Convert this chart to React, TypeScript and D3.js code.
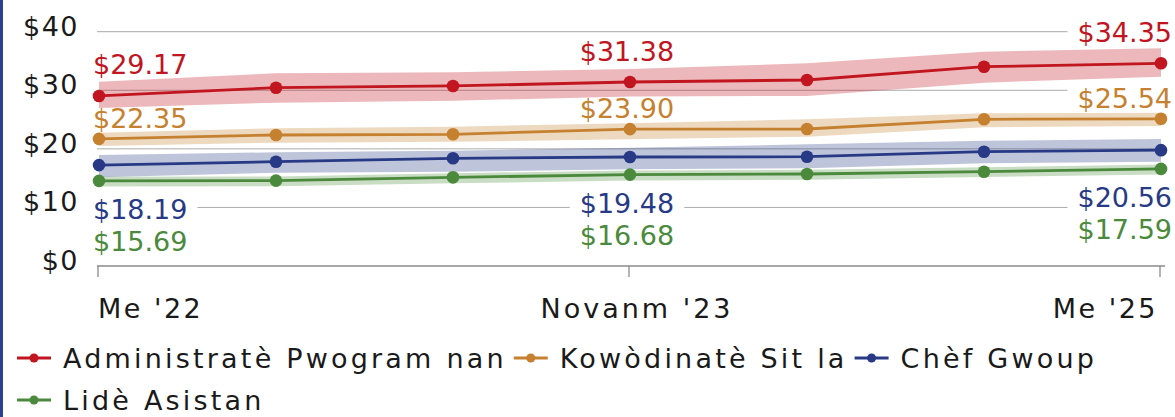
import React, { useEffect, useRef } from "react";
import * as d3 from "d3";

// ---------- data ----------
const periods = ["Me '22", "Novanm '22", "Me '23", "Novanm '23", "Me '24", "Novanm '24", "Me '25"];
const tickPeriods = ["Me '22", "Novanm '23", "Me '25"];
const yTicks = [0, 10, 20, 30, 40];
const labelIndexes = [0, 3, 6];

const seriesNames = ["Administratè Pwogram nan", "Kowòdinatè Sit la", "Chèf Gwoup", "Lidè Asistan"];

const adminValues = [29.17, 30.48, 30.75, 31.38, 31.7, 33.81, 34.35];
const adminUpper = [31.43, 32.76, 32.92, 33.44, 34.35, 36.19, 36.73];
const adminLower = [27.25, 28.1, 28.41, 29.08, 29.16, 31.27, 32.22];

const coordValues = [22.35, 22.97, 23.08, 23.9, 23.92, 25.46, 25.54];
const coordUpper = [23.33, 24.03, 24.29, 24.83, 25.46, 26.41, 26.51];
const coordLower = [21.22, 21.75, 21.9, 22.29, 22.7, 24.19, 24.4];

const chiefValues = [18.19, 18.73, 19.27, 19.48, 19.52, 20.32, 20.56];
const chiefUpper = [19.79, 20.22, 20.48, 20.95, 21.49, 22.06, 22.33];
const chiefLower = [16.25, 16.98, 17.14, 17.52, 17.68, 18.48, 18.73];

const assistValues = [15.69, 15.72, 16.25, 16.68, 16.78, 17.14, 17.59];
const assistUpper = [16.35, 16.4, 16.9, 17.33, 17.45, 17.84, 18.3];
const assistLower = [14.8, 14.85, 15.3, 15.75, 15.85, 16.3, 16.7];

// ---------- style ----------
const W = 1175;
const H = 417;
const FONT = "'DejaVu Sans', sans-serif";
const FS = 27;
const colors = ["#c1151f", "#c5812f", "#283a85", "#4b8a3c"];

export default function App() {
  const ref = useRef<SVGSVGElement | null>(null);

  useEffect(() => {
    const svg = d3.select(ref.current);
    svg.selectAll("*").remove();

    const series = [
      { name: seriesNames[0], values: adminValues, upper: adminUpper, lower: adminLower, color: colors[0] },
      { name: seriesNames[1], values: coordValues, upper: coordUpper, lower: coordLower, color: colors[1] },
      { name: seriesNames[2], values: chiefValues, upper: chiefUpper, lower: chiefLower, color: colors[2] },
      { name: seriesNames[3], values: assistValues, upper: assistUpper, lower: assistLower, color: colors[3] },
    ];

    const x = d3.scalePoint<string>().domain(periods).range([99, 1161]);
    const yAxis = d3.scaleLinear().domain([0, 40]).range([266, 31.7]);
    const yData = d3.scaleLinear().domain([0, 40]).range([279.7, 27.7]);

    svg.append("rect").attr("x", 0).attr("y", 0).attr("width", 3).attr("height", H).attr("fill", "#2e4190");

    // gridlines
    const grid = svg.append("g");
    yTicks.forEach((t) => {
      grid
        .append("line")
        .attr("x1", 97)
        .attr("x2", 1165)
        .attr("y1", yAxis(t))
        .attr("y2", yAxis(t))
        .attr("stroke", t === 0 ? "#8a8a8a" : "#ababab")
        .attr("stroke-width", t === 0 ? 1.3 : 1);
    });

    // y tick labels
    const fmtAxis = d3.format("$,.0f");
    yTicks.forEach((t) => {
      svg
        .append("text")
        .attr("x", 79)
        .attr("y", yAxis(t) + 4)
        .attr("text-anchor", "end")
        .attr("font-family", FONT)
        .attr("font-size", FS)
        .attr("letter-spacing", 1.5)
        .attr("fill", "#1a1a1a")
        .text(fmtAxis(t));
    });

    // x ticks
    tickPeriods.forEach((p, i) => {
      const px = (x(p) as number) - 1;
      svg.append("line").attr("x1", px).attr("x2", px).attr("y1", 266).attr("y2", 277).attr("stroke", "#8a8a8a").attr("stroke-width", 1.3);
      const last = i === tickPeriods.length - 1;
      const anchor = i === 0 ? "start" : last ? "end" : "middle";
      svg
        .append("text")
        .attr("x", i === 0 ? px : last ? px - 2 : px + 8)
        .attr("y", 318)
        .attr("text-anchor", anchor)
        .attr("font-family", FONT)
        .attr("font-size", FS)
        .attr("letter-spacing", i === 0 || last ? 2.5 : 3)
        .attr("fill", "#1a1a1a")
        .text(p);
    });

    const bgGroup = svg.append("g");

    // bands
    series.forEach((s) => {
      const area = d3
        .area<number>()
        .x((_, i) => x(periods[i]) as number)
        .y0((_, i) => yData(s.lower[i]))
        .y1((_, i) => yData(s.upper[i]));
      svg.append("path").attr("d", area(s.values) as string).attr("fill", s.color).attr("fill-opacity", 0.3);
    });

    // lines and points
    series.forEach((s) => {
      const line = d3
        .line<number>()
        .x((_, i) => x(periods[i]) as number)
        .y((d) => yData(d));
      svg.append("path").attr("d", line(s.values) as string).attr("fill", "none").attr("stroke", s.color).attr("stroke-width", 2.8);
      svg
        .append("g")
        .selectAll("circle")
        .data(s.values)
        .join("circle")
        .attr("cx", (_, i) => x(periods[i]) as number)
        .attr("cy", (d) => yData(d))
        .attr("r", 6.3)
        .attr("fill", s.color);
    });

    // value labels
    const fmt = d3.format("$.2f");
    const labelNodes: SVGTextElement[] = [];
    labelIndexes.forEach((idx, k) => {
      const px = x(periods[idx]) as number;
      const last = k === labelIndexes.length - 1;
      const anchor = k === 0 ? "start" : last ? "end" : "middle";
      const lx = k === 0 ? px - 6 : last ? px + 11 : px - 3;
      const lowest = d3.min(series, (s) => s.values[idx]) as number;
      series.forEach((s, si) => {
        let ly: number;
        if (si === 0) ly = yData(s.values[idx]) - 21.5;
        else if (si === 1) ly = yData(s.values[idx]) - 11;
        else if (si === 2) ly = yData(lowest) + 38;
        else ly = yData(lowest) + 70;
        const t = svg
          .append("text")
          .attr("x", lx)
          .attr("y", ly)
          .attr("text-anchor", anchor)
          .attr("font-family", FONT)
          .attr("font-size", FS)
          .attr("fill", s.color)
          .text(fmt(s.values[idx]));
        labelNodes.push(t.node() as SVGTextElement);
      });
    });
    labelNodes.forEach((n) => {
      const b = n.getBBox();
      bgGroup
        .append("rect")
        .attr("x", b.x - 10)
        .attr("y", b.y - 1)
        .attr("width", b.width + 20)
        .attr("height", b.height + 2)
        .attr("fill", "#ffffff");
    });

    // legend
    const legend = svg.append("g");
    let cx = 17;
    let cy = 358;
    const rowH = 42;
    series.forEach((s) => {
      const g = legend.append("g");
      const txt = g
        .append("text")
        .attr("font-family", FONT)
        .attr("font-size", FS)
        .attr("letter-spacing", 3.2)
        .attr("fill", "#1a1a1a")
        .text(s.name);
      const tw = (txt.node() as SVGTextElement).getComputedTextLength();
      const itemW = 34 + 12 + tw;
      if (cx + itemW > W - 5) {
        cx = 17;
        cy += rowH;
      }
      g.append("line").attr("x1", cx).attr("x2", cx + 34).attr("y1", cy).attr("y2", cy).attr("stroke", s.color).attr("stroke-width", 3);
      g.append("circle").attr("cx", cx + 17).attr("cy", cy).attr("r", 4.5).attr("fill", s.color);
      txt.attr("x", cx + 46).attr("y", cy + 9.5);
      cx += itemW + 7;
    });
  }, []);

  return (
    <svg
      ref={ref}
      width={W}
      height={H}
      viewBox={`0 0 ${W} ${H}`}
      style={{ position: "absolute", left: 0, top: 0, background: "#ffffff" }}
    />
  );
}
